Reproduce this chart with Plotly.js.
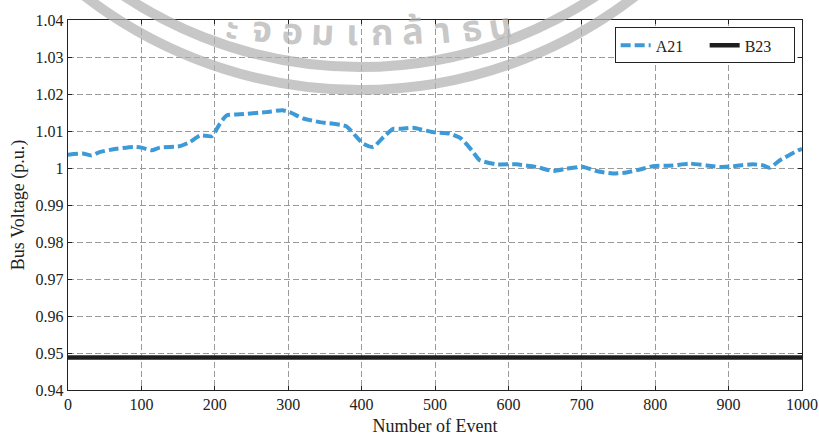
<!DOCTYPE html>
<html><head><meta charset="utf-8">
<script src="https://cdn.plot.ly/plotly-3.0.1.min.js"></script>
<style>html,body{margin:0;padding:0;background:#fff}#chart{width:819px;height:436px}</style>
</head><body><div id="chart"></div>
<script>
const eventsA21 = [0,20,32,43,66,89,100,114,125,152,166,180,196,207,216,234,270,292,302,320,343,379,393,402,416,430,443,452,470,497,520,536,550,561,584,611,638,661,679,702,720,742,761,779,797,824,847,870,888,906,933,947,956,970,995,1000];
const voltA21 = [1.0036,1.0039,1.0034,1.0043,1.0052,1.0057,1.0055,1.0048,1.0055,1.0059,1.0070,1.0088,1.0086,1.0120,1.0142,1.0145,1.0151,1.0156,1.0151,1.0134,1.0124,1.0113,1.0084,1.0066,1.0057,1.0084,1.0106,1.0106,1.0109,1.0097,1.0093,1.0079,1.0048,1.0021,1.0010,1.0010,1.0003,0.9992,0.9998,1.0003,0.9992,0.9985,0.9988,0.9996,1.0005,1.0007,1.0012,1.0007,1.0003,1.0005,1.0010,1.0007,1.0001,1.0021,1.0048,1.0052];
const eventsB23 = [0,1000];
const voltB23 = [0.9488,0.9488];
const xTicks = [0,100,200,300,400,500,600,700,800,900,1000];
const yTicks = [0.94,0.95,0.96,0.97,0.98,0.99,1,1.01,1.02,1.03,1.04];
const yTickText = ['0.94','0.95','0.96','0.97','0.98','0.99','1','1.01','1.02','1.03','1.04'];
const watermarkChars = ['ะ','จ','อ','ม','เ','ก','ล้','า','ธ','น'];

const W = 819, H = 436, ML = 68, MR = 17, MT = 20, MB = 46;
const PW = W - ML - MR, PH = H - MT - MB;
const px = v => (v - ML) / PW;          // pixel -> paper x
const py = v => (H - MB - v) / PH;      // pixel -> paper y

const font = "'Liberation Serif','Times New Roman',serif";
const traces = [
  {x: eventsA21, y: voltA21, name: 'A21', mode: 'lines',
   line: {color: '#3d9ad6', width: 4, dash: '10px,4px', shape: 'spline', smoothing: 0.5}},
  {x: eventsB23, y: voltB23, name: 'B23', mode: 'lines',
   line: {color: '#1e1e1e', width: 4.5}}
];

// watermark (scan stamp) rings
const ringColor = 'rgba(175,175,175,0.7)';
const cx = 360, cy = -360;
const shapes = [427, 450].map(r => ({
  type: 'circle', xref: 'paper', yref: 'paper', layer: 'above',
  x0: px(cx - r), x1: px(cx + r), y0: py(cy + r), y1: py(cy - r),
  line: {color: ringColor, width: 10}
}));
// watermark text along a flat arc
const tcx = 360, tr = 1600, tcy = 34 - tr;
const xs = [232, 262, 292, 322, 352, 382, 413, 443, 472, 500];
const annotations = watermarkChars.map((c, i) => {
  const dx = xs[i] - tcx;
  const th = Math.asin(dx / tr);
  const yy = tcy + tr * Math.cos(th);
  return {text: c, xref: 'paper', yref: 'paper', x: px(xs[i]), y: py(yy),
    xanchor: 'center', yanchor: 'middle', showarrow: false,
    textangle: -th * 180 / Math.PI * 2,
    font: {family: "'Noto Sans Thai','Loma','Garuda','Norasi','DejaVu Sans',sans-serif", size: 36, color: ringColor, weight: 700}};
});

const axisCommon = {
  showline: true, linecolor: '#222', linewidth: 1.2, mirror: 'ticks',
  ticks: 'inside', ticklen: 4, tickcolor: '#222',
  showgrid: true, gridcolor: '#9a9a9a', griddash: '6px,3px', gridwidth: 1,
  zeroline: false, tickfont: {family: font, size: 16, color: '#222'}
};
const layout = {
  width: W, height: H,
  margin: {l: ML, r: MR, t: MT, b: MB},
  paper_bgcolor: '#fff', plot_bgcolor: '#fff',
  font: {family: font, color: '#222'},
  showlegend: true,
  legend: {x: 0.99, y: 0.98, xanchor: 'right', yanchor: 'top', orientation: 'h',
    bordercolor: '#222', borderwidth: 1, bgcolor: '#fff', entrywidth: 44,
    font: {family: font, size: 16, color: '#222'}},
  shapes: shapes,
  annotations: annotations,
  xaxis: Object.assign({}, axisCommon, {range: [0, 1000], tickvals: xTicks,
    title: {text: 'Number of Event', font: {family: font, size: 18, color: '#222'}, standoff: 9}}),
  yaxis: Object.assign({}, axisCommon, {range: [0.94, 1.04], tickvals: yTicks, ticktext: yTickText,
    title: {text: 'Bus Voltage (p.u.)', font: {family: font, size: 18, color: '#222'}, standoff: 6}})
};
Plotly.newPlot('chart', traces, layout, {displayModeBar: false, staticPlot: true});
</script></body></html>
